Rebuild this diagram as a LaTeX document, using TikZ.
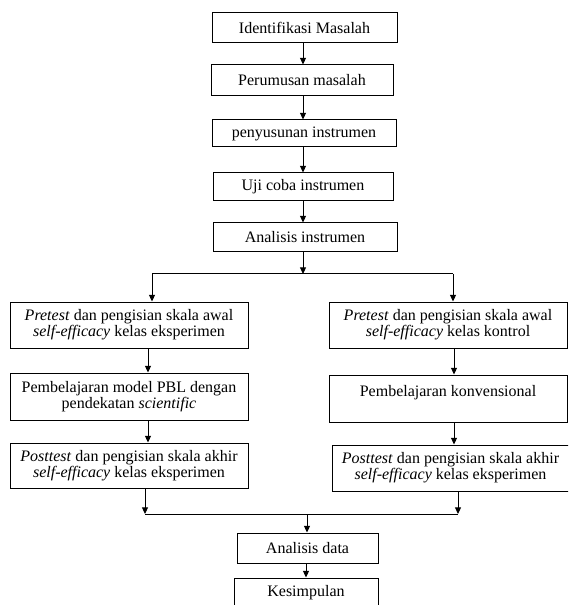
\documentclass[tikz,border=0pt]{standalone}
\usepackage{fontspec}
\setmainfont{Liberation Serif}
\usetikzlibrary{arrows.meta}

\begin{document}
\begin{tikzpicture}[x = 0.75pt, y = -0.75pt, line width = 0.75pt,
  box/.style = {draw, inner sep = 0pt, align = center, font = \fontsize{12pt}{10.7pt}\selectfont},
  arr/.style = {-{Triangle[length = 5pt, width = 4.5pt]}}]
  \useasboundingbox (0, 0) rectangle (568, 605);
  \clip (0, 0) rectangle (568, 605);

  % main line
  \node[box, minimum width = 138.75pt, minimum height = 22.5pt] (ident) at (304.5, 28) {Identifikasi Masalah};
  \node[box, minimum width = 136.5pt, minimum height = 23.25pt] (perum) at (302, 80.5) {Perumusan masalah};
  \node[box, minimum width = 138pt, minimum height = 20.25pt] (penyus) at (304, 133.5) {penyusunan instrumen};
  \node[box, minimum width = 135pt, minimum height = 21pt] (uji) at (303, 187) {Uji coba instrumen};
  \node[box, minimum width = 138pt, minimum height = 21.75pt] (analI) at (305, 237.5) {Analisis instrumen};

  % kelas eksperimen
  \node[box, minimum width = 178.5pt, minimum height = 34.5pt] (pretestE) at (129, 325)
    {\textit{Pretest} dan pengisian skala awal\\ \textit{self-efficacy} kelas eksperimen};
  \node[box, minimum width = 178.5pt, minimum height = 35.25pt] (pblE) at (129, 396.5)
    {Pembelajaran model PBL dengan\\ pendekatan \textit{scientific}};
  \node[box, minimum width = 178.5pt, minimum height = 33.75pt] (posttestE) at (129, 465.5)
    {\textit{Posttest} dan pengisian skala akhir\\ \textit{self-efficacy} kelas eksperimen};

  % kelas kontrol
  \node[box, minimum width = 178.5pt, minimum height = 34.5pt] (pretestK) at (448, 325)
    {\textit{Pretest} dan pengisian skala awal\\ \textit{self-efficacy} kelas kontrol};
  \node[box, minimum width = 178.5pt, minimum height = 35.25pt] (konv) at (448, 398.5)
    {Pembelajaran konvensional\\ \mbox{}};
  \node[box, minimum width = 177.75pt, minimum height = 34.5pt] (posttestK) at (450.5, 468)
    {\textit{Posttest} dan pengisian skala akhir\\ \textit{self-efficacy} kelas eksperimen};

  \node[box, minimum width = 105.75pt, minimum height = 22.5pt] (analD) at (307.5, 548) {Analisis data};
  \node[box, minimum width = 108pt, minimum height = 22.5pt] (kesim) at (306, 593) {Kesimpulan};

  \coordinate (mid) at (303, 0);
  \coordinate (colE) at (148, 0);
  \coordinate (colK) at (454, 0);
  \coordinate (low) at (306, 0);
  \coordinate (split) at (303, 274);
  \coordinate (splitE) at (152, 274);
  \coordinate (splitK) at (453, 274);
  \coordinate (join) at (307, 514);
  \coordinate (joinE) at (145, 514);
  \coordinate (joinK) at (458, 514);

  \foreach \a/\b in {ident/perum, perum/penyus, penyus/uji, uji/analI}
    \draw[arr] (\a.south -| mid) -- (\b.north -| mid);

  \draw[arr] (analI.south -| split) -- (split);
  \draw (splitE) -- (splitK);
  \draw[arr] (splitE) -- (pretestE.north -| splitE);
  \draw[arr] (splitK) -- (pretestK.north -| splitK);

  \draw[arr] (pretestE.south -| colE) -- (pblE.north -| colE);
  \draw[arr] (pblE.south -| colE) -- (posttestE.north -| colE);
  \draw[arr] (pretestK.south -| colK) -- (konv.north -| colK);
  \draw[arr] (konv.south -| colK) -- (posttestK.north -| colK);

  \draw[arr] (posttestE.south -| joinE) -- (joinE);
  \draw[arr] (posttestK.south -| joinK) -- (joinK);
  \draw (joinE) -- (joinK);
  \draw[arr] (join) -- (analD.north -| join);
  \draw[arr] (analD.south -| low) -- (kesim.north -| low);
\end{tikzpicture}
\end{document}
